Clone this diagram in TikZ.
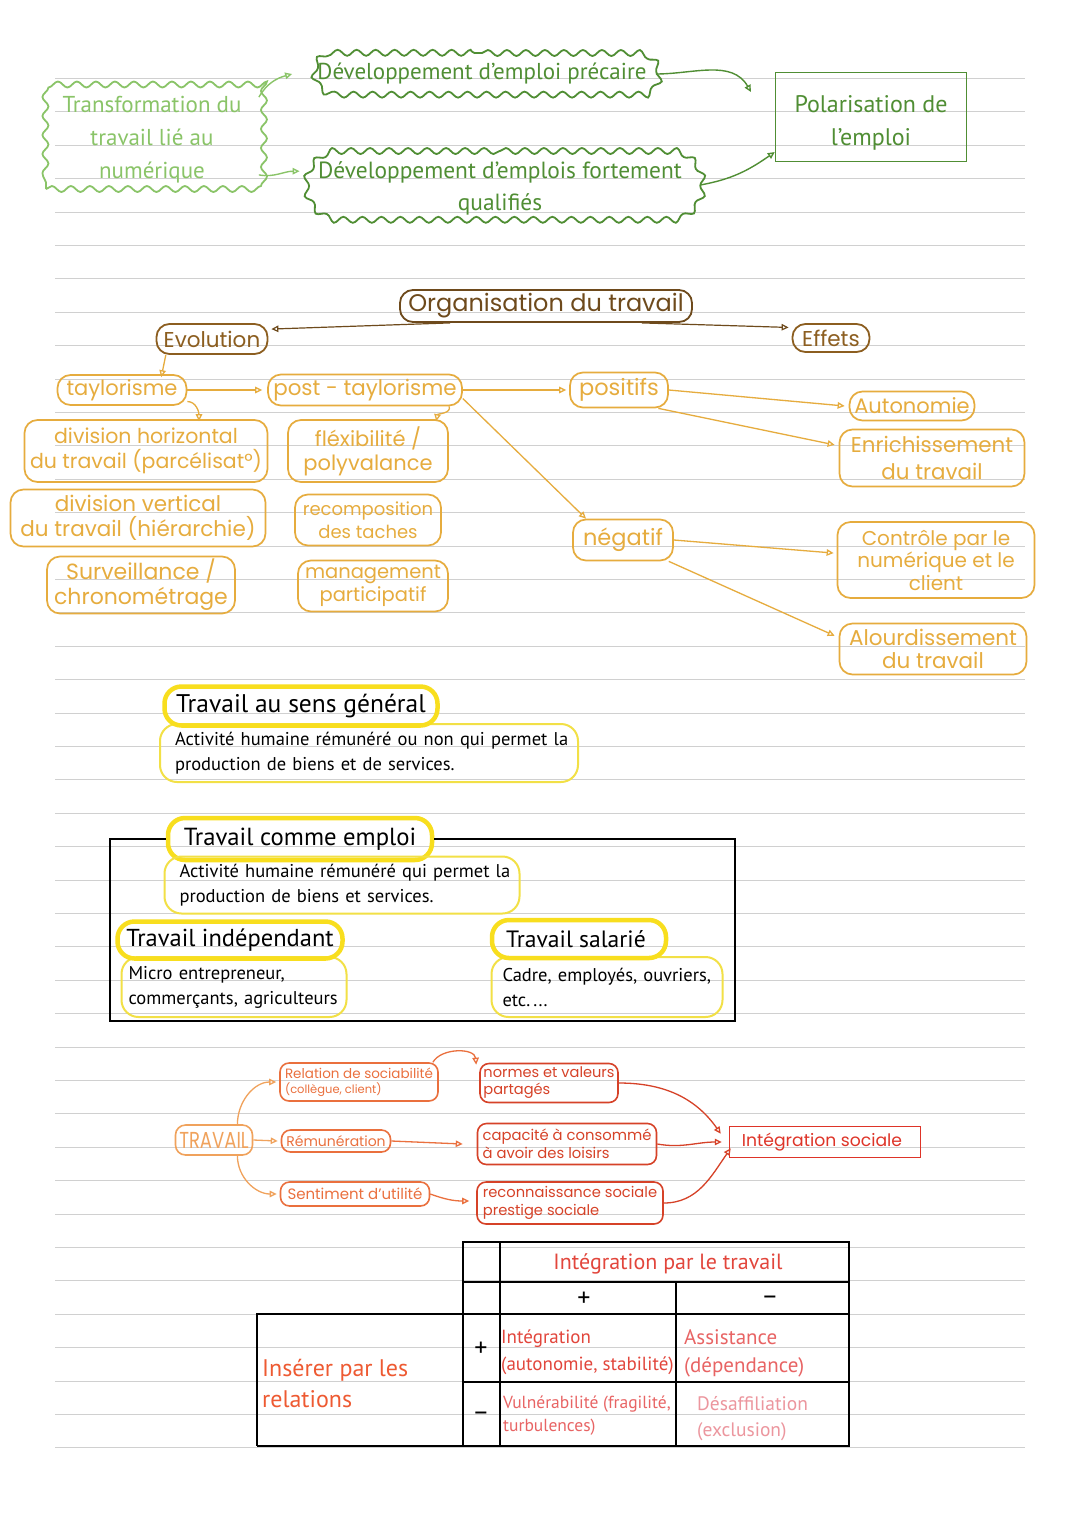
\documentclass[tikz,border=0pt]{standalone}
\usepackage{fontspec}
\usepackage{graphicx}
\setmainfont{PT Sans}
\newfontfamily\hand{Poppins}
\usetikzlibrary{arrows.meta,decorations.pathmorphing,shapes.misc}
\newcommand\myfs[2]{\fontsize{#1}{#2}\selectfont}
\definecolor{lgreen}{RGB}{138,196,104}
\definecolor{dgreen}{RGB}{80,142,52}
\definecolor{brownD}{RGB}{110,74,28}
\definecolor{brownM}{RGB}{140,94,32}
\definecolor{gold}{RGB}{230,172,62}
\definecolor{yel}{RGB}{248,222,30}
\definecolor{yelthin}{RGB}{242,224,70}
\definecolor{orng}{RGB}{240,162,92}
\definecolor{orred}{RGB}{234,112,62}
\definecolor{redA}{RGB}{214,66,40}
\definecolor{redI}{RGB}{222,52,40}
\definecolor{tred}{RGB}{226,70,60}
\definecolor{tred2}{RGB}{232,100,100}
\definecolor{tpink}{RGB}{236,150,158}
\definecolor{ruleC}{RGB}{208,208,208}
\begin{document}
\begin{tikzpicture}[x=1pt,y=-1pt,
  rulel/.style={draw=ruleC, line width=0.9pt},
  otip/.style={-{Triangle[open,length=7pt,width=6.5pt]}},
  cloudbox/.style={draw, line width=1.8pt, decorate, decoration={snake,amplitude=3pt,segment length=19pt}, align=center, inner sep=0pt},
  gbox/.style={draw=gold, line width=1.7pt, rounded corners=13pt, text=gold, align=center, inner sep=0pt, font=\hand\myfs{21}{24}},
  bbox/.style={draw=brownM, line width=1.8pt, rounded corners=13pt, text=brownM, align=center, inner sep=0pt, font=\hand\myfs{21.5}{22}},
  ytitle/.style={draw=yel, line width=4.5pt, rounded corners=17pt, inner sep=0pt, text=black},
  ydef/.style={draw=yelthin, line width=2pt, rounded corners=17pt, inner sep=0pt, align=left, text=black, font=\myfs{18.5}{25}},
  rbox/.style={line width=1.6pt, rounded corners=9pt, inner xsep=3pt, inner ysep=0pt, align=left, font=\hand\myfs{14.6}{17}},
  garrow/.style={otip, line width=1.4pt},
  tline/.style={line width=1.3pt, draw=black}
]
\fill[white] (0,0) rectangle (1080,1527);
\useasboundingbox (0,0) rectangle (1080,1527);
% ruled paper
\foreach \k in {0,...,41}{\draw[rulel] (55,78.5+33.4*\k) -- (1025,78.5+33.4*\k);}

% ---------- green part ----------
\node[cloudbox, draw=lgreen, text=lgreen, minimum width=212, minimum height=106, font=\myfs{23}{33}] (trans) at (152,136) {\rule{0pt}{23pt}Transformation du\\travail lié au\\numérique};
\node[cloudbox, rounded rectangle, rounded rectangle arc length=150, draw=dgreen, text=dgreen, minimum width=346, minimum height=42, font=\myfs{23}{32}] (prec) at (482,74) {Développement d’emploi précaire};
\node[cloudbox, rounded rectangle, rounded rectangle arc length=150, draw=dgreen, text=dgreen, minimum width=392, minimum height=68, font=\myfs{23.4}{32}] (qual) at (500,185) {\rule{0pt}{24pt}Développement d’emplois fortement\\qualifiés};
\node[draw=dgreen, line width=1.4pt, minimum width=191, minimum height=89, text=dgreen, align=center, inner sep=0pt, font=\myfs{24}{33}] (pol) at (871,117) {\rule{0pt}{29pt}Polarisation de\\l’emploi};
\coordinate (pa) at (751,92);
\draw[garrow, draw=lgreen] (trans.20) to[out=60,in=195] ([xshift=-16pt]prec.west);
\draw[garrow, draw=lgreen] (trans.-20) to[out=-10,in=180] ([xshift=-3pt]qual.176);
\draw[garrow, draw=dgreen] (prec.east) to[out=0,in=120] (pa);
\draw[garrow, draw=dgreen] (qual.east) to[out=10,in=215] (pol.200);

% ---------- brown / gold part ----------
\node[bbox, draw=brownD, text=brownD, minimum width=292, minimum height=32, font=\hand\myfs{24}{24}] (org) at (546,306) {Organisation du travail};
\node[bbox, minimum width=111, minimum height=30] (evo) at (212,339) {Evolution};
\node[bbox, minimum width=77, minimum height=28] (eff) at (831,338) {Effets};
\draw[garrow, draw=brownD, line width=1.2pt] (org.190) -- ([xshift=3pt]evo.10);
\draw[garrow, draw=brownD, line width=1.2pt] (org.-10) -- ([xshift=-3pt]eff.165);

\node[gbox, minimum width=129, minimum height=30] (tay) at (122,390) {taylorisme};
\node[gbox, minimum width=194, minimum height=31, font=\hand\myfs{21.4}{24}] (post) at (365,390) {post - taylorisme};
\node[gbox, minimum width=243, minimum height=62, font=\hand\myfs{20.5}{25}] (divh) at (146,451) {division horizontal\\du travail (parcélisat°)};
\node[gbox, minimum width=255, minimum height=57, font=\hand\myfs{21.5}{25}] (divv) at (138,518) {division vertical\\du travail (hiérarchie)};
\node[gbox, minimum width=188, minimum height=57, font=\hand\myfs{22}{25}] (surv) at (141,585) {Surveillance /\\chronométrage};
\node[gbox, minimum width=160, minimum height=62] (flex) at (368,451) {fléxibilité /\\polyvalance};
\node[gbox, minimum width=146, minimum height=51, font=\hand\myfs{18}{23}] (recomp) at (368,520) {recomposition\\des taches};
\node[gbox, minimum width=150, minimum height=51, font=\hand\myfs{19.5}{23}] (manag) at (373,586) {management\\participatif};
\node[gbox, minimum width=98, minimum height=35, font=\hand\myfs{22.5}{24}] (pos) at (619,390) {positifs};
\node[gbox, minimum width=100, minimum height=41, font=\hand\myfs{22.5}{24}] (neg) at (623,540) {négatif};
\node[gbox, minimum width=125, minimum height=29] (auto) at (912,406) {Autonomie};
\node[gbox, minimum width=185, minimum height=57, font=\hand\myfs{21.4}{27}] (enri) at (932,458) {Enrichissement\\du travail};
\node[gbox, minimum width=197, minimum height=76, font=\hand\myfs{20}{22.5}] (ctrl) at (936,560) {Contrôle par le\\numérique et le\\client};
\node[gbox, minimum width=187, minimum height=51, font=\hand\myfs{21.5}{23}] (alou) at (933,649) {Alourdissement\\du travail};

\begin{scope}[garrow, draw=gold, line width=1.3pt]
\draw (evo.199) -- ([yshift=-3pt]tay.22);
\draw (tay.east) -- ([xshift=-5pt]post.west);
\draw (tay.-10) to[out=0,in=90] ([yshift=-2pt]divh.31);
\draw (post.-11) to[out=-70,in=80] ([yshift=-2pt]flex.25);
\draw (post.east) -- ([xshift=-3pt]pos.west);
\draw (post.-5) -- (neg.150);
\draw (pos.east) -- ([xshift=-4pt]auto.west);
\draw (pos.-25) -- ([xshift=-4pt]enri.172);
\draw (neg.east) -- ([xshift=-3pt]ctrl.176);
\draw (neg.-25) -- ([xshift=-4pt]alou.172);
\end{scope}

% ---------- yellow definitions ----------
\node[ydef, minimum width=418, minimum height=58, text width=388] (d1) at (369,753) {\mbox{Activité humaine rémunéré ou non qui permet la}\\\mbox{production de biens et de services.}};
\node[ytitle, minimum width=273, minimum height=39, font=\myfs{25.5}{26}] (t1) at (301,706) {Travail au sens général};

\node[ytitle, minimum width=264, minimum height=42, font=\myfs{24.7}{26}] (t2) at (300,839) {Travail comme emploi};
\draw[line width=1.4pt] (t2.west) -- (110,839) -- (110,1021) -- (735,1021) -- (735,839) -- (t2.east);
\node[ydef, minimum width=355, minimum height=57, text width=325] (d2) at (342,885) {\mbox{Activité humaine rémunéré qui permet la}\\\mbox{production de biens et services.}};
\node[ydef, minimum width=225, minimum height=60, text width=211] (d3) at (234,987) {\mbox{Micro entrepreneur,}\\\mbox{commerçants, agriculteurs}};
\node[ytitle, minimum width=225, minimum height=37, font=\myfs{24.5}{26}] (t3) at (230,940) {Travail indépendant};
\node[ydef, minimum width=231, minimum height=60, text width=209] (d4) at (607,987) {\mbox{Cadre, employés, ouvriers,}\\\mbox{etc.\,...}};
\node[ytitle, minimum width=174, minimum height=38, font=\myfs{23.6}{26}] (t4) at (579,939) {\hspace*{-6pt}Travail salarié};

% ---------- red part ----------
\node[draw=orng, line width=1.6pt, rounded corners=10pt, minimum width=77, minimum height=30, inner sep=0pt, text=orng, font=\hand\myfs{22}{24}] (trv) at (214,1140) {\scalebox{0.82}[1.05]{TRAVAIL}};
\node[rbox, draw=orred, text=orred, minimum width=158, minimum height=38, font=\hand\myfs{13.5}{15}] (rel) at (359,1082) {Relation de sociabilité\\{\myfs{11.5}{13}(collègue, client)}};
\node[rbox, draw=orred, text=orred, minimum width=109, minimum height=22, font=\hand\myfs{14}{16}] (rem) at (336,1141) {Rémunération};
\node[rbox, draw=orred, text=orred, minimum width=149, minimum height=24, font=\hand\myfs{15}{16}] (sent) at (355,1194) {Sentiment d’utilité};
\node[rbox, draw=redA, text=redA, minimum width=138, minimum height=39] (norm) at (549,1083) {normes et valeurs\\partagés};
\node[rbox, draw=redA, text=redA, minimum width=179, minimum height=41, font=\hand\myfs{14.8}{17.5}] (cap) at (567,1144) {capacité à consommé\\à avoir des loisirs};
\node[rbox, draw=redA, text=redA, minimum width=186, minimum height=42, font=\hand\myfs{14.7}{17.5}] (reco) at (570,1203) {reconnaissance sociale\\prestige sociale};
\node[draw=redI, line width=1.5pt, minimum width=191, minimum height=31, inner sep=0pt, text=redI, font=\hand\myfs{17.2}{18}] (integ) at (825,1142) {\hspace*{-6pt}Intégration sociale};

\begin{scope}[otip, line width=1.3pt]
\draw[draw=orng] (trv.34) to[out=90,in=180] ([xshift=-3pt]rel.west);
\draw[draw=orng] (trv.east) -- ([xshift=-3pt]rem.west);
\draw[draw=orng] (trv.-34) to[out=-90,in=180] ([xshift=-3pt]sent.west);
\draw[draw=orred] (rel.15) to[out=60,in=95] ([xshift=-3pt,yshift=-2pt]norm.north west);
\draw[draw=orred] (rem.east) -- ([xshift=-14pt]cap.west);
\draw[draw=orred] (sent.east) to[out=-20,in=180] ([xshift=-7pt,yshift=2pt]reco.west);
\draw[draw=redA] (norm.east) to[out=0,in=125] ([xshift=-8pt,yshift=-8pt]integ.north west);
\draw[draw=redA] (cap.east) to[out=-10,in=180] ([xshift=-7pt]integ.west);
\draw[draw=redA] (reco.east) to[out=0,in=-125] ([xshift=2pt,yshift=10pt]integ.south west);
\end{scope}

% ---------- table ----------
\draw[tline] (463,1242) rectangle (849,1446);
\draw[tline] (500,1242) -- (500,1446);
\draw[tline] (463,1282) -- (849,1282);
\draw[tline] (463,1314) -- (849,1314);
\draw[tline] (463,1382) -- (849,1382);
\draw[tline] (676,1282) -- (676,1446);
\draw[tline] (463,1314) -- (257,1314) -- (257,1446);
\draw[line width=2pt] (257,1446) -- (849,1446);

\node[text=tred, font=\myfs{22}{22}] (tit) at (668,1264) {Intégration par le travail};
\node[font=\myfs{26}{26}] (pc) at (584,1299) {+};
\node[font=\myfs{26}{26}] (mc) at (770,1300) {\textendash};
\node[font=\myfs{26}{26}] (pr) at (481,1349) {+};
\node[font=\myfs{26}{26}] (mr) at (481,1416) {\textendash};
\node[anchor=north west, inner sep=0pt, align=left, text=tred, font=\myfs{19}{27}] (c11) at (501,1330) {Intégration\\(autonomie, stabilité)};
\node[anchor=north west, inner sep=0pt, align=left, text=tred2, font=\myfs{21}{28}] (c12) at (684,1329) {Assistance\\(dépendance)};
\node[anchor=north west, inner sep=0pt, align=left, text=tred2, font=\myfs{17.5}{23}] (c21) at (503,1396) {Vulnérabilité (fragilité,\\turbulences)};
\node[anchor=north west, inner sep=0pt, align=left, text=tpink, font=\myfs{19.5}{26}] (c22) at (697,1396) {Désaffiliation\\(exclusion)};
\node[anchor=north west, inner sep=0pt, align=left, text=orred!80!red, font=\myfs{24}{31}] (ins) at (262,1359) {Insérer par les\\relations};
\end{tikzpicture}
\end{document}
